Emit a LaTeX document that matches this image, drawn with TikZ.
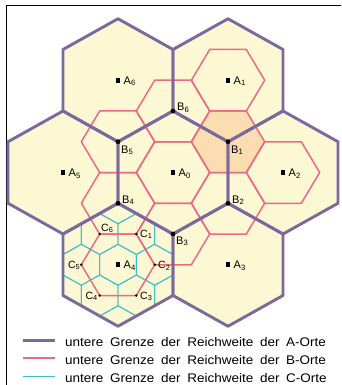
\documentclass[tikz,border=0pt]{standalone}
\usepackage{fontspec}
\usepackage{graphicx}
\setmainfont{Liberation Sans}
\definecolor{acol}{RGB}{124,104,156}
\definecolor{bcol}{RGB}{236,106,130}
\definecolor{ccol}{RGB}{62,190,198}
\definecolor{fillY}{RGB}{253,248,212}
\definecolor{fillO}{RGB}{250,221,176}
\begin{document}
\begin{tikzpicture}[x=1pt,y=-1pt,
  ahex/.pic={\path[pic actions] (0,-61.5) -- (55,-30.75) -- (55,30.75) -- (0,61.5) -- (-55,30.75) -- (-55,-30.75) -- cycle;},
  bhex/.pic={\path[pic actions] (-36.67,0) -- (-18.33,-30.75) -- (18.33,-30.75) -- (36.67,0) -- (18.33,30.75) -- (-18.33,30.75) -- cycle;},
  chex/.pic={\path[pic actions] (0,-20.5) -- (18.33,-10.25) -- (18.33,10.25) -- (0,20.5) -- (-18.33,10.25) -- (-18.33,-10.25) -- cycle;},
  aline/.style={draw=acol, line width=2.9pt, line join=round},
  bline/.style={draw=bcol, line width=1.5pt, line join=round},
  cline/.style={draw=ccol, line width=0.9pt},
  bdot/.style={circle, fill=black, inner sep=0pt, minimum size=4.8pt},
  cdot/.style={circle, fill=black, inner sep=0pt, minimum size=2.8pt},
  amark/.style={fill=black, inner sep=0pt, minimum size=4.6pt},
  lbl/.style={inner sep=0pt, font=\fontsize{11}{11}\selectfont},
  clbl/.style={inner sep=0pt, font=\fontsize{10.5}{10.5}\selectfont},
  legtext/.style={inner sep=0pt, anchor=base west}
]
\useasboundingbox (0,0) rectangle (341,385);
\fill[white] (0,0) rectangle (341,385);
% frame
\draw[line width=1.8pt] (6.5,385) -- (6.5,5.5) -- (341,5.5);

% centres
\coordinate (A0) at (173,172.5);
\coordinate (A1) at (228,80.25);
\coordinate (A2) at (283,172.5);
\coordinate (A3) at (228,264.75);
\coordinate (A4) at (118,264.75);
\coordinate (A5) at (63,172.5);
\coordinate (A6) at (118,80.25);
\coordinate (B1) at (228,141.75);
\coordinate (B2) at (228,203.25);
\coordinate (B3) at (173,234);
\coordinate (B4) at (118,203.25);
\coordinate (B5) at (118,141.75);
\coordinate (B6) at (173,111);
\coordinate (C1) at (136.33,234);
\coordinate (C2) at (154.67,264.75);
\coordinate (C3) at (136.33,295.5);
\coordinate (C4) at (99.67,295.5);
\coordinate (C5) at (81.33,264.75);
\coordinate (C6) at (99.67,234);

% fills
\foreach \p in {A0,A1,A2,A3,A4,A5,A6} \pic[fill=fillY] at (\p) {ahex};
\pic[fill=fillO] at (B1) {bhex};

% C-level grid inside A4
\begin{scope}
  \clip (118,203.25) -- (173,234) -- (173,295.5) -- (118,326.25) -- (63,295.5) -- (63,234) -- cycle;
  \foreach \i in {-3,...,3} {
    \foreach \j in {-3,...,3} {
      \pic[cline] at (118+\i*36.667+\j*18.333, 264.75-\j*30.75) {chex};
    }
  }
\end{scope}

% B-level hexagons
\foreach \p in {A0,A1,A2,A4,B1,B2,B3,B4,B5,B6} \pic[bline] at (\p) {bhex};

% A-level hexagons
\foreach \p in {A0,A1,A2,A3,A4,A5,A6} \pic[aline] at (\p) {ahex};

% A markers and labels
\foreach \p/\n in {A0/0,A1/1,A2/2,A3/3,A4/4,A5/5,A6/6} {
  \node[amark] (m\p) at (\p) {};
  \node[lbl, anchor=base west, xshift=5.5pt, yshift=-4pt] (t\p) at (\p) {A\textsubscript{\n}};
}

% B points
\foreach \p in {B1,B2,B3,B4,B5,B6} \node[bdot] (d\p) at (\p) {};
\node[lbl, anchor=north west] (tB1) at (231,145.5) {B\textsubscript{1}};
\node[lbl, anchor=base west] (tB2) at (232,203) {B\textsubscript{2}};
\node[lbl, anchor=north west] (tB3) at (176,236.5) {B\textsubscript{3}};
\node[lbl, anchor=base west] (tB4) at (122,203) {B\textsubscript{4}};
\node[lbl, anchor=north west] (tB5) at (121,145.5) {B\textsubscript{5}};
\node[lbl, anchor=base west] (tB6) at (177,110.5) {B\textsubscript{6}};

% C points
\foreach \p in {C1,C2,C3,C4,C5,C6} \node[cdot] (d\p) at (\p) {};
\node[clbl, anchor=west] (tC1) at (140,234.5) {C\textsubscript{1}};
\node[clbl, anchor=west] (tC2) at (158,266) {C\textsubscript{2}};
\node[clbl, anchor=west] (tC3) at (140,296.5) {C\textsubscript{3}};
\node[clbl, anchor=east] (tC4) at (98,296.5) {C\textsubscript{4}};
\node[clbl, anchor=east] (tC5) at (80.5,265.5) {C\textsubscript{5}};
\node[clbl, anchor=base west] (tC6) at (101,231) {C\textsubscript{6}};

% legend
\coordinate (LA1) at (23,340); \coordinate (LA2) at (55,340);
\coordinate (LB1) at (23,358); \coordinate (LB2) at (55,358);
\coordinate (LC1) at (23,376.5); \coordinate (LC2) at (55,376.5);
\draw[draw=acol, line width=3pt] (LA1) -- (LA2);
\draw[draw=bcol, line width=1.5pt] (LB1) -- (LB2);
\draw[draw=ccol, line width=1pt] (LC1) -- (LC2);
\node[legtext] (legA) at (65,346) {\scalebox{1.08}[1]{\fontsize{12.5}{12.5}\selectfont\spaceskip=6.2pt\relax untere Grenze der Reichweite der A-Orte}};
\node[legtext] (legB) at (65,364) {\scalebox{1.08}[1]{\fontsize{12.5}{12.5}\selectfont\spaceskip=6.2pt\relax untere Grenze der Reichweite der B-Orte}};
\node[legtext] (legC) at (65,382.5) {\scalebox{1.08}[1]{\fontsize{12.5}{12.5}\selectfont\spaceskip=6.2pt\relax untere Grenze der Reichweite der C-Orte}};
\end{tikzpicture}
\end{document}
